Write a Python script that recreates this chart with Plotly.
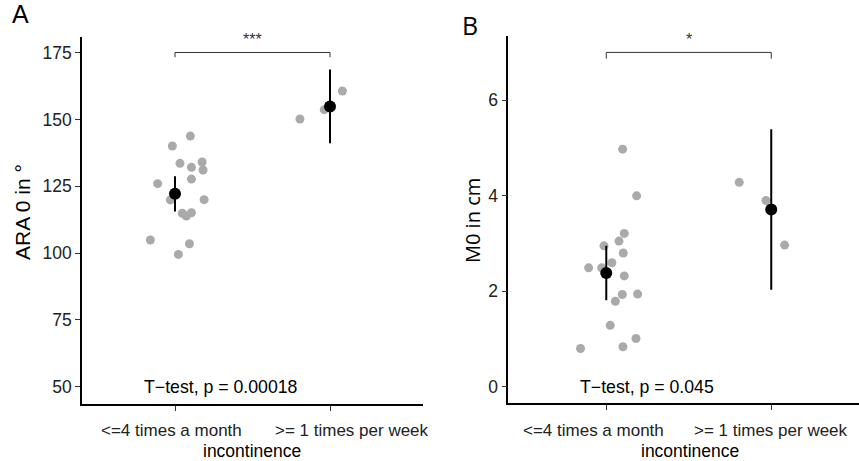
import plotly.graph_objects as go

W, H = 859, 461

# ---------------- data ----------------
categories = ["<=4 times a month", ">= 1 times per week"]

# Panel A: ARA 0 in degrees
a_low = [140.1, 143.8, 133.6, 132.1, 134.1, 131.1, 127.7, 126.0, 119.9, 120.0,
         114.9, 115.1, 113.9, 104.9, 103.5, 99.5]
a_low_jitter = [-0.017, 0.099, 0.032, 0.106, 0.175, 0.181, 0.106, -0.112, -0.030, 0.188,
                0.047, 0.106, 0.073, -0.159, 0.093, 0.022]
a_high = [150.2, 153.7, 160.7]
a_high_jitter = [-0.194, -0.037, 0.080]
a_mean = [122.2, 154.9]
a_err = [6.6, 13.8]
a_ticks = [50, 75, 100, 125, 150, 175]
a_p_label = "T\u2212test, p = 0.00018"
a_sig = "***"
a_bracket_y = 175.1
a_bracket_tip = 173.3

# Panel B: M0 in cm
b_low = [4.975, 3.997, 3.21, 3.05, 2.95, 2.80, 2.49, 2.49, 2.595, 2.32,
         1.93, 1.94, 1.79, 1.285, 1.01, 0.837, 0.80]
b_low_jitter = [0.099, 0.184, 0.109, 0.077, -0.014, 0.103, -0.107, -0.028, 0.034, 0.109,
                0.097, 0.190, 0.055, 0.024, 0.180, 0.101, -0.156]
b_high = [4.28, 3.90, 2.965]
b_high_jitter = [-0.194, -0.032, 0.081]
b_mean = [2.38, 3.71]
b_err = [0.57, 1.68]
b_ticks = [0, 2, 4, 6]
b_p_label = "T\u2212test, p = 0.045"
b_sig = "*"
b_bracket_y = 7.0
b_bracket_tip = 6.87

# ---------------- figure ----------------
GRAY = "#AAAAAA"
FONT = "Liberation Sans, Arial, sans-serif"

fig = go.Figure()

def add_panel(xa, ya, low, low_j, high, high_j, mean, err, br_y, br_tip):
    xs = [1 + j for j in low_j] + [2 + j for j in high_j]
    ys = low + high
    fig.add_trace(go.Scatter(x=xs, y=ys, mode="markers", xaxis=xa, yaxis=ya,
                             marker=dict(color=GRAY, size=9, line=dict(width=0)),
                             showlegend=False, hoverinfo="skip"))
    fig.add_trace(go.Scatter(x=[1, 2], y=mean, mode="markers", xaxis=xa, yaxis=ya,
                             marker=dict(color="black", size=12, line=dict(width=0)),
                             error_y=dict(type="data", array=err, visible=True,
                                          color="black", thickness=2, width=0),
                             showlegend=False, hoverinfo="skip"))
    fig.add_trace(go.Scatter(x=[1, 1, 2, 2], y=[br_tip, br_y, br_y, br_tip],
                             mode="lines", xaxis=xa, yaxis=ya,
                             line=dict(color="#333333", width=1),
                             showlegend=False, hoverinfo="skip"))

add_panel("x", "y", a_low, a_low_jitter, a_high, a_high_jitter, a_mean, a_err,
          a_bracket_y, a_bracket_tip)
add_panel("x2", "y2", b_low, b_low_jitter, b_high, b_high_jitter, b_mean, b_err,
          b_bracket_y, b_bracket_tip)

axis_common = dict(showgrid=False, zeroline=False, showline=True, linecolor="black",
                   linewidth=1.5, ticks="outside", ticklen=5, tickwidth=1.2,
                   tickcolor="#333333", mirror=False)

fig.update_layout(
    width=W, height=H,
    margin=dict(l=0, r=0, t=0, b=0),
    paper_bgcolor="white", plot_bgcolor="white",
    font=dict(family=FONT, color="black"),
    xaxis=dict(domain=[82 / W, 423 / W], range=[0.4, 2.6], anchor="y",
               tickvals=[1, 2], showticklabels=False, **axis_common),
    yaxis=dict(domain=[(H - 404) / H, (H - 37) / H], range=[43.5, 180.9], anchor="x",
               tickvals=a_ticks, tickfont=dict(size=17.5, color="#222222"), **axis_common),
    xaxis2=dict(domain=[508.3 / W, 1.0], range=[0.406, 2.532], anchor="y2",
                tickvals=[1, 2], showticklabels=False, **axis_common),
    yaxis2=dict(domain=[(H - 403.3) / H, (H - 35.7) / H], range=[-0.347, 7.35], anchor="x2",
                tickvals=b_ticks, tickfont=dict(size=17.5, color="#222222"), **axis_common),
)

ann = []
# x tick labels
tick_font = dict(size=17, color="#222222", family=FONT)
for xr, pos in (("x", [0.979, 2.142]), ("x2", [0.924, 2.0])):
    for cat, xp in zip(categories, pos):
        ann.append(dict(text=cat, x=xp, xref=xr, y=(H - 430) / H, yref="paper",
                        xanchor="center", yanchor="middle", showarrow=False, font=tick_font))
# x axis titles
for xp in (252 / W, 690 / W):
    ann.append(dict(text="incontinence", x=xp, y=(H - 451) / H, xref="paper", yref="paper",
                    xanchor="center", yanchor="middle", showarrow=False,
                    font=dict(size=17.5, color="black", family=FONT)))
# y axis titles
ann.append(dict(text="ARA 0 in \u00b0", x=22 / W, y=(H - 212) / H, xref="paper", yref="paper",
                xanchor="center", yanchor="middle", textangle=-90, showarrow=False,
                font=dict(size=21, color="black", family=FONT)))
ann.append(dict(text="M0 in cm", x=472 / W, y=(H - 221) / H, xref="paper", yref="paper",
                xanchor="center", yanchor="middle", textangle=-90, showarrow=False,
                font=dict(size=20, color="black", family="Open Sans, sans-serif")))
# p-value labels
ann.append(dict(text=a_p_label, x=1.295, y=50, xref="x", yref="y", xanchor="center",
                yanchor="middle", showarrow=False, font=dict(size=17.7, color="black", family=FONT)))
ann.append(dict(text=b_p_label, x=1.247, y=0, xref="x2", yref="y2", xanchor="center",
                yanchor="middle", showarrow=False, font=dict(size=17.7, color="black", family=FONT)))
# significance stars
ann.append(dict(text=a_sig, x=1.5, y=180.0, xref="x", yref="y", xanchor="center",
                yanchor="middle", showarrow=False, font=dict(size=16, color="#333333", family=FONT)))
ann.append(dict(text=b_sig, x=1.5, y=7.27, xref="x2", yref="y2", xanchor="center",
                yanchor="middle", showarrow=False, font=dict(size=16, color="#333333", family=FONT)))
# panel letters
ann.append(dict(text="A", x=20 / W, y=(H - 14) / H, xref="paper", yref="paper",
                xanchor="center", yanchor="middle", showarrow=False,
                font=dict(size=25, color="black", family=FONT)))
ann.append(dict(text="B", x=470 / W, y=(H - 25) / H, xref="paper", yref="paper",
                xanchor="center", yanchor="middle", showarrow=False,
                font=dict(size=25, color="black", family="Open Sans, sans-serif")))

fig.update_layout(annotations=ann)
fig.write_html("out.html", config={"displayModeBar": False},
               post_script="document.body.style.margin='0';document.body.style.padding='0';")
